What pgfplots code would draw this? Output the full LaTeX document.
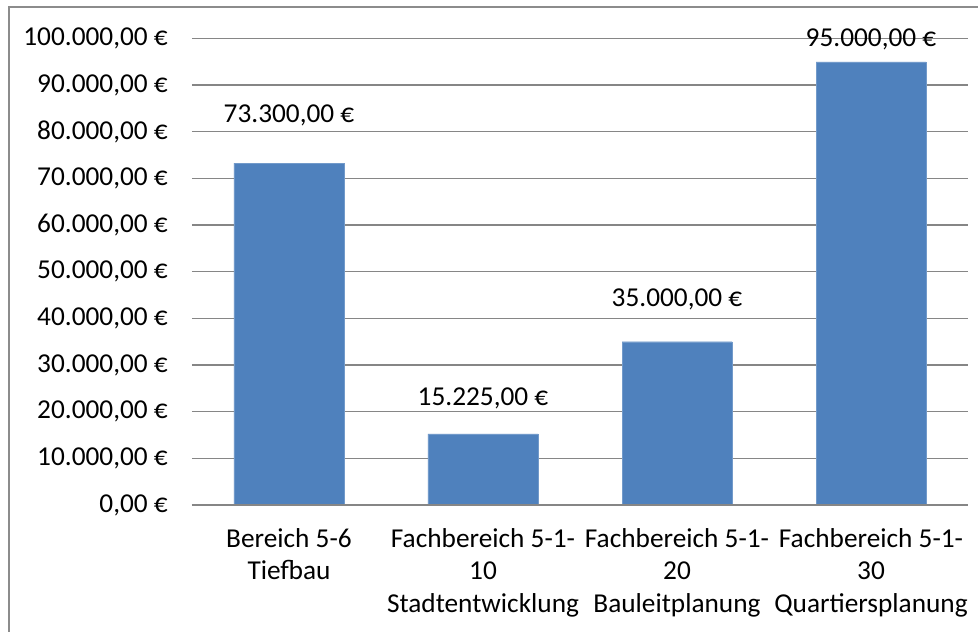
\documentclass[border=0pt]{standalone}
\usepackage{pgfplots}
\pgfplotsset{compat=1.18}
\usepackage{pgfplotstable}
\usepackage{fontspec}
\setmainfont{Carlito}
\definecolor{barblue}{HTML}{4F81BD}
\definecolor{gridgray}{HTML}{868686}
\definecolor{framegray}{HTML}{8C8C8C}
\pgfplotstableread{
x  y      off
0  73300  48
1  15225  36
2  35000  42
3  95000  22
}\datatable
\begin{document}
\begin{tikzpicture}
\useasboundingbox (0pt,0pt) rectangle (978pt,632pt);
\begin{scope}
\clip (0pt,0pt) rectangle (978pt,632pt);
\draw[framegray, line width=1.5pt] (9pt,-10pt) rectangle (990pt,625pt);
\end{scope}
\begin{axis}[
  at={(192pt,127pt)}, anchor=south west,
  scale only axis, width=776pt, height=466.5pt,
  xmin=-0.5, xmax=3.5, ymin=0, ymax=100000,
  scaled y ticks=false,
  axis line style={draw=none},
  ytick={0,10000,...,100000},
  xtick={0,1,2,3},
  xticklabels={{Bereich 5-6\\Tiefbau},{Fachbereich 5-1-\\10\\Stadtentwicklung},{Fachbereich 5-1-\\20\\Bauleitplanung},{Fachbereich 5-1-\\30\\Quartiersplanung}},
  yticklabels={{0,00 €},{10.000,00 €},{20.000,00 €},{30.000,00 €},{40.000,00 €},{50.000,00 €},{60.000,00 €},{70.000,00 €},{80.000,00 €},{90.000,00 €},{100.000,00 €}},
  ymajorgrids, major grid style={gridgray, line width=1.3pt},
  major tick length=0pt,
  tick label style={font=\fontsize{27.3}{32.5}\selectfont, inner sep=0pt},
  yticklabel style={anchor=east, xshift=-24pt},
  xticklabel style={align=center, anchor=north, yshift=-23pt},
  clip=false,
]
\addplot[ybar, bar width=110pt, fill=barblue, draw=barblue!80!white, bar shift=0pt,
  nodes near coords={\pgfmathprintnumber[fixed, fixed zerofill, precision=2, use comma, 1000 sep={.}, assume math mode=true]{\pgfplotspointmeta}~€},
  point meta=explicit,
  visualization depends on={\thisrow{off} \as \myoff},
  every node near coord/.append style={font=\fontsize{27.3}{32}\selectfont, text=black, anchor=center, yshift=\myoff pt, inner sep=0pt},
] table[x=x, y=y, meta=y] {\datatable};
\draw[gridgray, line width=1.3pt] (axis cs:-0.5,0) -- (axis cs:3.5,0);
\end{axis}
\end{tikzpicture}
\end{document}
